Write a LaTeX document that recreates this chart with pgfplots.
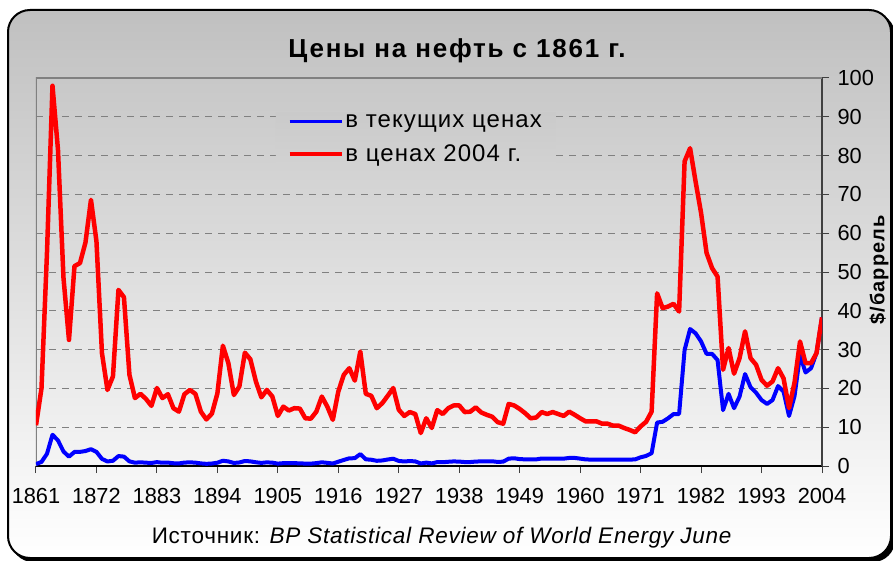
\documentclass[border=0pt]{standalone}
\usepackage{fontspec}
\setmainfont{Liberation Sans}
\newfontfamily\titlefont[LetterSpace=6.8]{Liberation Sans}
\newfontfamily\legfont[LetterSpace=4.5]{Liberation Sans}
\newfontfamily\srcfont[LetterSpace=3.4]{Liberation Sans}
\newfontfamily\labfont[LetterSpace=5]{Liberation Sans}
\usepackage{pgfplots}
\pgfplotsset{compat=1.18}
\usepackage{pgfplotstable}

\definecolor{bgtop}{RGB}{192,192,192}
\definecolor{legtop}{RGB}{202,202,202}
\definecolor{legbot}{RGB}{210,210,210}
\definecolor{gridgray}{RGB}{128,128,128}

% year, nominal $/bbl, $ of 2004
\pgfplotstableread{
year cur real
1861 0.49 10.5
1862 1.05 20.0
1863 3.15 55.0
1864 8.06 98.0
1865 6.59 81.5
1866 3.74 48.5
1867 2.41 32.5
1868 3.63 51.5
1869 3.64 52.3
1870 3.86 57.6
1871 4.34 68.6
1872 3.64 57.9
1873 1.83 29.1
1874 1.17 19.6
1875 1.35 23.1
1876 2.56 45.4
1877 2.42 43.5
1878 1.19 23.5
1879 0.86 17.5
1880 0.95 18.6
1881 0.86 17.3
1882 0.78 15.5
1883 1.00 20.1
1884 0.84 17.5
1885 0.88 18.5
1886 0.71 14.9
1887 0.67 14.0
1888 0.88 18.5
1889 0.94 19.6
1890 0.87 18.6
1891 0.67 14.0
1892 0.56 12.0
1893 0.64 13.5
1894 0.84 18.7
1895 1.36 31.0
1896 1.18 26.5
1897 0.79 18.3
1898 0.91 20.5
1899 1.29 29.2
1900 1.19 27.5
1901 0.96 21.8
1902 0.80 17.7
1903 0.94 19.6
1904 0.86 17.9
1905 0.62 12.9
1906 0.73 15.3
1907 0.72 14.3
1908 0.72 14.9
1909 0.70 14.8
1910 0.61 12.3
1911 0.61 12.2
1912 0.74 14.0
1913 0.95 17.9
1914 0.81 15.3
1915 0.64 11.9
1916 1.10 19.2
1917 1.56 23.5
1918 1.98 25.2
1919 2.01 22.0
1920 3.07 29.5
1921 1.73 18.6
1922 1.61 18.1
1923 1.34 14.9
1924 1.43 16.2
1925 1.68 18.1
1926 1.88 20.1
1927 1.30 14.5
1928 1.17 12.9
1929 1.27 13.9
1930 1.19 13.4
1931 0.65 8.5
1932 0.87 12.3
1933 0.67 9.8
1934 1.00 14.4
1935 0.97 13.4
1936 1.09 14.9
1937 1.18 15.6
1938 1.13 15.6
1939 1.02 13.9
1940 1.02 14.0
1941 1.14 15.1
1942 1.19 13.8
1943 1.20 13.2
1944 1.21 12.7
1945 1.05 11.3
1946 1.12 10.9
1947 1.90 16.0
1948 1.99 15.6
1949 1.78 14.7
1950 1.71 13.6
1951 1.71 12.3
1952 1.71 12.5
1953 1.93 13.9
1954 1.93 13.4
1955 1.93 13.9
1956 1.93 13.4
1957 1.90 12.9
1958 2.08 14.0
1959 2.08 13.2
1960 1.90 12.3
1961 1.70 11.5
1962 1.65 11.5
1963 1.65 11.5
1964 1.65 10.9
1965 1.65 10.9
1966 1.65 10.4
1967 1.65 10.4
1968 1.65 9.8
1969 1.65 9.3
1970 1.70 8.7
1971 2.24 10.2
1972 2.60 11.4
1973 3.30 14.0
1974 11.2 44.5
1975 11.4 40.7
1976 12.3 41.1
1977 13.4 41.8
1978 13.4 39.8
1979 29.9 78.5
1980 35.3 81.9
1981 34.2 73.3
1982 32.1 65.2
1983 28.9 54.9
1984 28.9 51.0
1985 27.3 48.8
1986 14.4 24.8
1987 18.6 30.4
1988 14.9 23.8
1989 17.9 27.8
1990 23.7 34.7
1991 20.3 27.8
1992 18.9 26.1
1993 17.0 22.2
1994 16.0 20.7
1995 17.0 21.8
1996 20.6 25.2
1997 19.2 22.6
1998 12.9 14.9
1999 18.0 21.5
2000 28.6 32.1
2001 24.1 26.5
2002 25.2 26.5
2003 29.1 29.1
2004 38.3 38.3
}\oil

\begin{document}
\begin{tikzpicture}[x=1pt,y=1pt]
\clip (0,0) rectangle (893,560);
% shadow and framed chart area
\fill[black, rounded corners=22pt] (11,-2) rectangle (895,547);
\shade[top color=bgtop, bottom color=white, rounded corners=22pt] (8,2) rectangle (891,550);
\draw[line width=2pt, rounded corners=22pt] (8,2) rectangle (891,550);

\node[font=\titlefont\bfseries\fontsize{26}{30}\selectfont] at (457,509) {Цены на нефть с 1861 г.};
\node[font=\srcfont\fontsize{22.5}{26}\selectfont] at (442,22)
  {Источник: \textit{BP Statistical Review of World Energy June}};
\node[font=\labfont\bfseries\fontsize{20}{24}\selectfont, rotate=90] at (879,290) {\$/баррель};

\begin{axis}[
  at={(36pt,94pt)}, anchor=south west,
  scale only axis, width=786pt, height=388pt,
  xmin=1861, xmax=2004, ymin=0, ymax=100,
  axis x line*=bottom, axis y line*=right,
  x axis line style={black, line width=1.2pt},
  y axis line style={black!75, line width=1.2pt},
  xtick={1861,1872,...,2004}, ytick={0,10,...,100},
  tick align=outside, major tick length=7pt,
  tick style={black!75, line width=1pt},
  ymajorgrids, grid style={gridgray, line width=1pt, dash pattern=on 7pt off 6pt},
  /pgf/number format/assume math mode=true,
  /pgf/number format/1000 sep={},
  tick label style={font=\fontsize{21.8}{25}\selectfont},
  xticklabel style={yshift=-12pt},
  yticklabel style={anchor=west, xshift=5pt},
  legend style={at={(rel axis cs:0.305,0.912)}, anchor=north west,
    draw=none, top color=legtop, bottom color=legbot, font=\legfont\fontsize{24}{28}\selectfont,
    inner xsep=12pt, inner ysep=0pt, row sep=12pt},
  legend cell align=left,
  legend image code/.code={\draw[#1, line width=3.5pt] (0pt,0pt) -- (52pt,0pt);},
]
\draw[gridgray, line width=1.5pt] (rel axis cs:0,0) -- (rel axis cs:0,1) -- (rel axis cs:1,1);
\addplot[blue, line width=4pt, line join=round] table[x=year, y=cur] {\oil};
\addplot[red, line width=4.5pt, line join=round] table[x=year, y=real] {\oil};
\legend{в текущих ценах, в ценах 2004 г.}
\end{axis}
\end{tikzpicture}
\end{document}
